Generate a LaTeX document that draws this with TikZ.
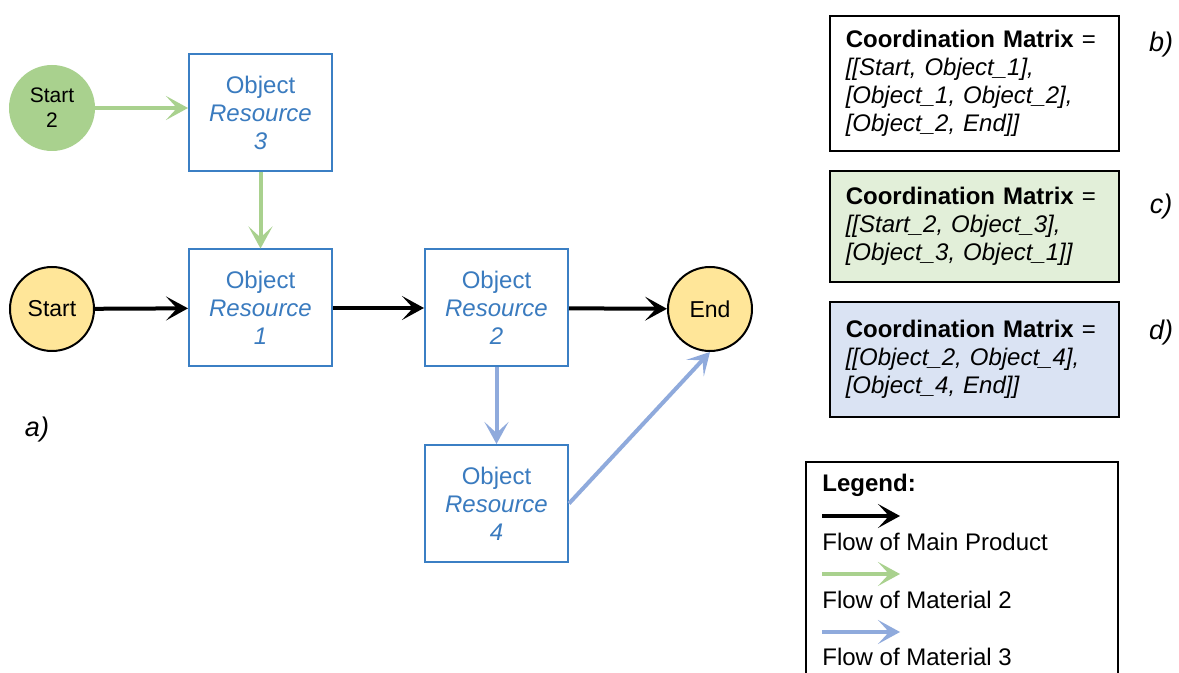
\documentclass[tikz,border=0pt]{standalone}
\usepackage{fontspec}
\setmainfont{Liberation Sans}
\usetikzlibrary{arrows.meta}
\definecolor{gfill}{HTML}{A9D18E}
\definecolor{yfill}{HTML}{FFE699}
\definecolor{boxblue}{HTML}{3B7FC4}
\definecolor{txtblue}{HTML}{3A7BBF}
\definecolor{barrow}{HTML}{8FAADC}
\definecolor{cfill}{HTML}{E2EFD9}
\definecolor{dfill}{HTML}{DAE3F3}
\tikzset{
  objbox/.style={draw=boxblue,line width=1pt,minimum width=71.5pt,minimum height=58.5pt,
    text=txtblue,align=center,font=\fontsize{12}{14}\selectfont,inner sep=0pt},
  yellowcirc/.style={circle,draw=black,line width=1pt,fill=yfill,minimum size=42pt,inner sep=0pt,
    font=\fontsize{11.5}{14}\selectfont},
  greencirc/.style={circle,fill=gfill,minimum size=43pt,inner sep=0pt,align=center,
    font=\fontsize{10.5}{12.5}\selectfont},
  flow/.style={line width=2pt,-{Stealth[length=11pt,width=12pt,inset=5.5pt]}},
  mainflow/.style={flow,draw=black},
  greenflow/.style={flow,draw=gfill},
  blueflow/.style={flow,draw=barrow},
  matbox/.style={draw=black,line width=0.8pt,minimum width=144.5pt,align=left,text width=128.5pt,
    inner xsep=8pt,font=\fontsize{12}{14}\selectfont,anchor=north west},
  sublabel/.style={font=\fontsize{13.5}{14}\selectfont\itshape},
  legtext/.style={anchor=west,font=\fontsize{12}{14}\selectfont,inner sep=0pt}
}
\begin{document}
\begin{tikzpicture}[x=0.5pt,y=-0.5pt]
\clip (0,0) rectangle (1179,673);
\fill[white] (0,0) rectangle (1179,673);
% nodes
\node[greencirc] (s2) at (52,108) {Start\\2};
\node[objbox] (o3) at (260.5,112.5) {Object\\\textit{Resource}\\\textit{3}};
\node[yellowcirc] (start) at (52,309) {Start};
\node[objbox] (o1) at (260.5,308) {Object\\\textit{Resource}\\\textit{1}};
\node[objbox] (o2) at (496.5,308) {Object\\\textit{Resource}\\\textit{2}};
\node[yellowcirc] (end) at (710,309) {End};
\node[objbox] (o4) at (496.5,503.5) {Object\\\textit{Resource}\\\textit{4}};
\node[sublabel] (la) at (37,430) {a)};
% connectors
\draw[greenflow] (s2.east) -- (s2.east -| o3.west);
\draw[greenflow] (o3) -- (o1);
\draw[mainflow] (start) -- (o1);
\draw[mainflow] (o1) -- (o2);
\draw[mainflow] (o2) -- (end);
\draw[blueflow] (o2) -- (o4);
\draw[blueflow] (o4.east) -- (end.south);
% matrices
\node[matbox,minimum height=67.5pt] (mb) at (829,15)
  {\textbf{Coordination Matrix} =\\\textit{[[Start, Object\_1],}\\\textit{[Object\_1, Object\_2],}\\\textit{[Object\_2, End]]}};
\node[sublabel] (lb) at (1161,45) {b)};
\node[matbox,fill=cfill,minimum height=55.5pt] (mc) at (829,170)
  {\textbf{Coordination Matrix} =\\\textit{[[Start\_2, Object\_3],}\\\textit{[Object\_3, Object\_1]]}};
\node[sublabel] (lc) at (1161,207) {c)};
\node[matbox,fill=dfill,minimum height=57.5pt] (md) at (829,301)
  {\textbf{Coordination Matrix} =\\\textit{[[Object\_2, Object\_4],}\\\textit{[Object\_4, End]]}};
\node[sublabel] (ld) at (1161,333) {d)};
% legend
\draw[line width=0.8pt] (806,462) rectangle (1118,720);
\node[legtext,font=\fontsize{12}{14}\selectfont\bfseries] (lg) at (822,485) {Legend:};
\coordinate (k1a) at (822,516); \coordinate (k1b) at (900,516);
\draw[mainflow] (k1a) -- (k1b);
\node[legtext] (t1) at (822,542) {Flow of Main Product};
\coordinate (k2a) at (822,574); \coordinate (k2b) at (900,574);
\draw[greenflow] (k2a) -- (k2b);
\node[legtext] (t2) at (822,600) {Flow of Material 2};
\coordinate (k3a) at (822,632); \coordinate (k3b) at (900,632);
\draw[blueflow] (k3a) -- (k3b);
\node[legtext] (t3) at (822,657) {Flow of Material 3};
\end{tikzpicture}
\end{document}
